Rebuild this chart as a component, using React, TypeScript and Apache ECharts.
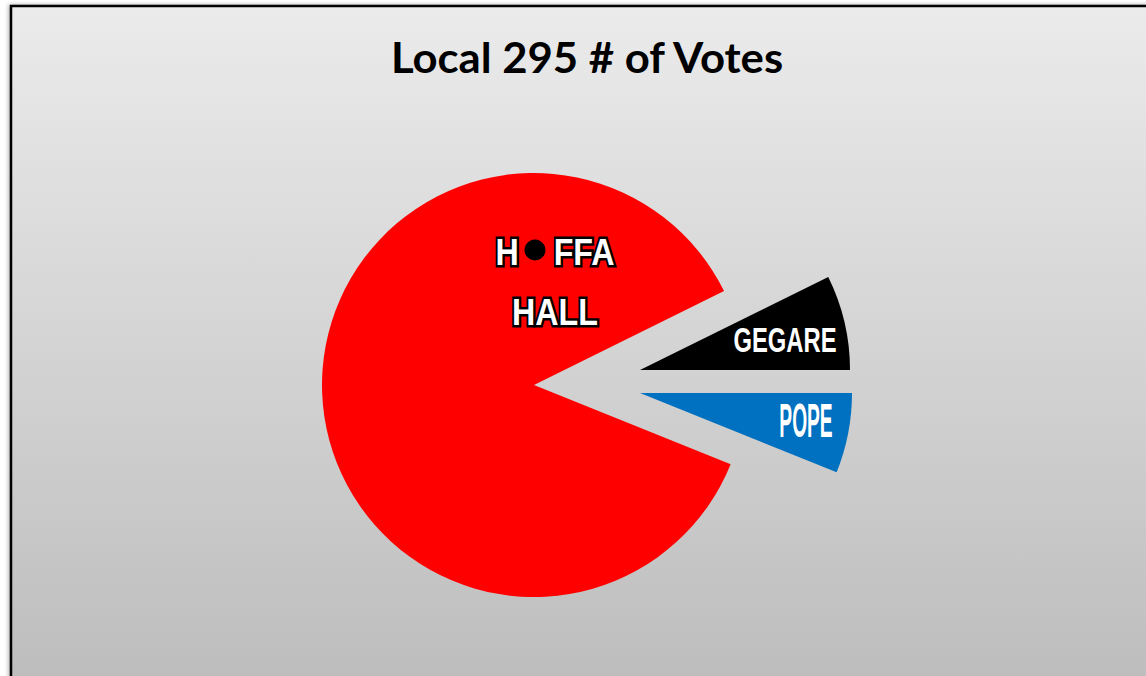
import React, { useEffect, useRef } from "react";
import * as echarts from "echarts";

const titleText = "Local 295 # of Votes";
const categories = ["GEGARE", "POPE", "HOFFA HALL"];
const votes = [73, 61, 866];
const sliceColors = ["#000000", "#0070c0", "#ff0000"];

export default function App() {
  const ref = useRef<HTMLDivElement>(null);
  useEffect(() => {
    document.body.style.margin = "0";
    const chart = echarts.init(ref.current!, null, { renderer: "svg" });

    const mkSeries = (visibleIdx: number, center: [number, number], radius: number) => ({
      type: "pie",
      silent: true,
      center,
      radius,
      startAngle: 26.3,
      clockwise: true,
      label: { show: false },
      labelLine: { show: false },
      emphasis: { disabled: true },
      z: 3,
      data: categories.map((name, i) => ({
        name,
        value: votes[i],
        itemStyle: {
          color: i === visibleIdx ? sliceColors[i] : "rgba(0,0,0,0)",
          borderWidth: 0,
        },
      })),
    });

    const outlined = {
      fontFamily: "Liberation Sans",
      fontWeight: "bold",
      fontSize: 37,
      fill: "#ffffff",
      stroke: "#000000",
      lineWidth: 5,
    };

    chart.setOption({
      animation: false,
      backgroundColor: "#ffffff",
      graphic: [
        {
          type: "rect",
          z: -10,
          shape: { x: 11, y: 6, width: 1200, height: 720 },
          style: {
            fill: new echarts.graphic.LinearGradient(0, 0, 0, 1, [
              { offset: 0, color: "#ebebeb" },
              { offset: 1, color: "#bababa" },
            ]),
            stroke: "#000000",
            lineWidth: 2.5,
            shadowBlur: 4,
            shadowOffsetX: -1,
            shadowOffsetY: 0,
            shadowColor: "rgba(0,0,0,0.35)",
          },
        },
        {
          type: "text",
          z: 100,
          x: 587,
          y: 57,
          scaleX: 1.04,
          style: {
            text: titleText,
            align: "center",
            verticalAlign: "middle",
            fontFamily: "Lato",
            fontWeight: "bold",
            fontSize: 42,
            fill: "#000000",
          },
        },
        {
          type: "text",
          z: 100,
          x: 555,
          y: 252,
          scaleX: 0.87,
          style: {
            text: "{a|H}{d|●}{a|FFA}",
            align: "center",
            verticalAlign: "middle",
            rich: {
              a: outlined,
              d: {
                fontFamily: "DejaVu Sans",
                fontSize: 30,
                width: 40,
                align: "center",
                fill: "rgba(0,0,0,0)",
              },
            },
          },
        },
        {
          type: "circle",
          z: 101,
          shape: { cx: 535, cy: 250, r: 10.5 },
          style: { fill: "#000000" },
        },
        {
          type: "text",
          z: 100,
          x: 555,
          y: 312,
          scaleX: 0.87,
          style: {
            text: "HALL",
            align: "center",
            verticalAlign: "middle",
            ...outlined,
          },
        },
        {
          type: "text",
          z: 100,
          x: 785,
          y: 340,
          scaleX: 0.68,
          style: {
            text: categories[0],
            align: "center",
            verticalAlign: "middle",
            fontFamily: "Liberation Sans",
            fontWeight: "bold",
            fontSize: 35,
            fill: "#ffffff",
          },
        },
        {
          type: "text",
          z: 100,
          x: 806,
          y: 421,
          scaleX: 0.4,
          style: {
            text: categories[1],
            align: "center",
            verticalAlign: "middle",
            fontFamily: "Liberation Sans",
            fontWeight: "bold",
            fontSize: 48,
            fill: "#ffffff",
          },
        },
      ],
      series: [
        mkSeries(2, [534, 385], 212),
        mkSeries(0, [640, 370], 210),
        mkSeries(1, [640, 393], 212),
      ],
    });
    return () => chart.dispose();
  }, []);
  return <div ref={ref} style={{ width: 1146, height: 676 }} />;
}
